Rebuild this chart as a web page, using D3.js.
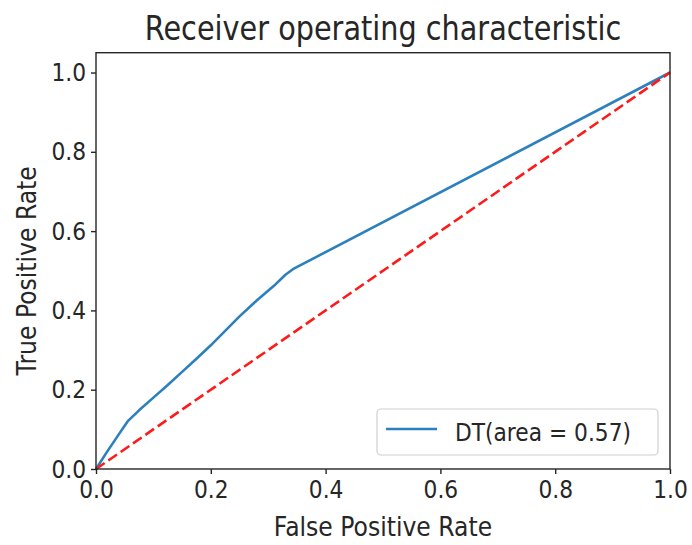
<!DOCTYPE html>
<html>
<head>
<meta charset="utf-8">
<script src="https://cdn.jsdelivr.net/npm/d3@7"></script>
<style>
  html, body { margin: 0; padding: 0; background: #fff; }
  svg { display: block; }
  text { font-family: "DejaVu Sans", sans-serif; fill: #262626; }
</style>
</head>
<body>
<svg id="chart" width="692" height="545"></svg>
<script>
// ROC curve of the decision tree classifier
const fpr = [0, 0.020, 0.040, 0.055, 0.075, 0.100, 0.125, 0.150, 0.175, 0.200, 0.250, 0.280, 0.310, 0.330, 0.343, 1.0];
const tpr = [0, 0.045, 0.088, 0.120, 0.148, 0.180, 0.212, 0.245, 0.278, 0.312, 0.385, 0.425, 0.462, 0.490, 0.504, 1.0];
const chanceLine = [[0, 0], [1, 1]];
const xTicks = [0, 0.2, 0.4, 0.6, 0.8, 1.0];
const yTicks = [0, 0.2, 0.4, 0.6, 0.8, 1.0];
const aucValue = 0.57;
const seriesName = "DT";

const svg = d3.select("#chart");
const margin = { left: 96, right: 22, top: 52.7, bottom: 76 };
const W = 692, H = 545;

const x = d3.scaleLinear().domain([0, 1]).range([margin.left, W - margin.right]);
const y = d3.scaleLinear().domain([0, 1.05]).range([H - margin.bottom, margin.top]);

// condensed text helper: fix rendered width
function squeeze(sel, factor) {
  sel.each(function () {
    const w = this.getComputedTextLength();
    d3.select(this).attr("textLength", w * factor).attr("lengthAdjust", "spacingAndGlyphs");
  });
}

// curves
const pts = fpr.map((v, i) => [v, tpr[i]]);
const line = d3.line().x(d => x(d[0])).y(d => y(d[1]));

svg.append("path")
  .attr("d", line(pts))
  .attr("fill", "none")
  .attr("stroke", "#2b80bd")
  .attr("stroke-width", 2.6)
  .attr("stroke-linejoin", "round");

svg.append("path")
  .attr("d", line(chanceLine))
  .attr("fill", "none")
  .attr("stroke", "#ff1a1a")
  .attr("stroke-width", 2.6)
  .attr("stroke-dasharray", "10.5,4.5");

// axes
const xAxis = svg.append("g")
  .attr("transform", `translate(0,${H - margin.bottom})`)
  .call(d3.axisBottom(x).tickValues(xTicks).tickFormat(d3.format(".1f")).tickSize(5).tickPadding(5).tickSizeOuter(0));
const yAxis = svg.append("g")
  .attr("transform", `translate(${margin.left},0)`)
  .call(d3.axisLeft(y).tickValues(yTicks).tickFormat(d3.format(".1f")).tickSize(5).tickPadding(5).tickSizeOuter(0));

[xAxis, yAxis].forEach(g => {
  g.select(".domain").remove();
  g.selectAll(".tick line").attr("stroke", "#262626").attr("stroke-width", 1.4);
  g.selectAll(".tick text").attr("font-size", 25).attr("fill", "#262626")
    .style("font-family", "DejaVu Sans, sans-serif");
});
xAxis.selectAll(".tick text").attr("dy", "0.75em");
squeeze(xAxis.selectAll(".tick text"), 0.87);
squeeze(yAxis.selectAll(".tick text"), 0.87);

// frame
svg.append("rect")
  .attr("x", x(0)).attr("y", y(1.05))
  .attr("width", x(1) - x(0)).attr("height", y(0) - y(1.05))
  .attr("fill", "none").attr("stroke", "#262626").attr("stroke-width", 1.4);

// title and axis labels
svg.append("text")
  .attr("x", (x(0) + x(1)) / 2).attr("y", 40)
  .attr("text-anchor", "middle").attr("font-size", 33)
  .text("Receiver operating characteristic")
  .call(squeeze, 0.87);

svg.append("text")
  .attr("x", (x(0) + x(1)) / 2).attr("y", 536)
  .attr("text-anchor", "middle").attr("font-size", 27)
  .text("False Positive Rate")
  .call(squeeze, 0.87);

svg.append("text")
  .attr("transform", `translate(36,${(y(0) + y(1.05)) / 2 + 10}) rotate(-90)`)
  .attr("text-anchor", "middle").attr("font-size", 27)
  .text("True Positive Rate")
  .call(squeeze, 0.87);

// legend
const lg = svg.append("g");
lg.append("rect")
  .attr("x", 377).attr("y", 409).attr("width", 281).attr("height", 46)
  .attr("rx", 4).attr("fill", "#fff").attr("fill-opacity", 0.8)
  .attr("stroke", "#d0d0d0").attr("stroke-width", 1.2);
lg.append("line")
  .attr("x1", 386).attr("x2", 437).attr("y1", 429).attr("y2", 429)
  .attr("stroke", "#2b80bd").attr("stroke-width", 2.6);
lg.append("text")
  .attr("x", 455).attr("y", 441).attr("font-size", 25)
  .text(`${seriesName}(area = ${aucValue.toFixed(2)})`)
  .call(squeeze, 0.87);
</script>
</body>
</html>
